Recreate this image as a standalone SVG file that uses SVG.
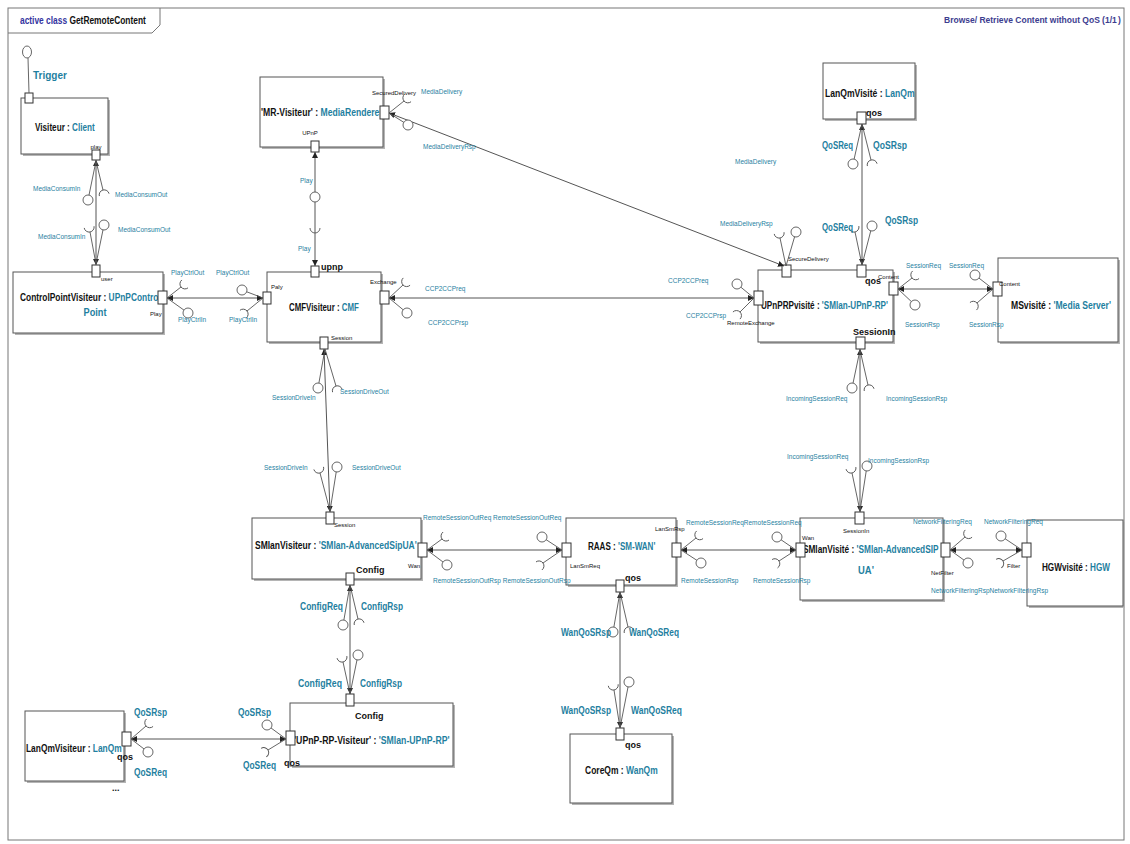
<svg xmlns="http://www.w3.org/2000/svg" xmlns:xlink="http://www.w3.org/1999/xlink" width="1130" height="844" viewBox="0 0 1130 844">
  <style>
    .frame { fill: none; stroke: #777; stroke-width: 1; }
    .box { fill: #fff; stroke: #555; stroke-width: 1; }
    .shadow { fill: #b5b5b5; }
    .port { fill: #fff; stroke: #333; stroke-width: 1; }
    .ln { fill: none; stroke: #555; stroke-width: 1; }
    .stem { fill: none; stroke: #555; stroke-width: 0.9; }
    .ball { fill: #fff; stroke: #555; stroke-width: 0.9; }
    .sock { fill: none; stroke: #555; stroke-width: 0.9; }
    text { font-family: "Liberation Sans", Arial, sans-serif; }
    .name { font-size: 11px; font-weight: bold; fill: #111; }
    .type { fill: #1f7f9f; }
    .cl { font-size: 6.5px; fill: #1f7f9f; }
    .bl { font-size: 10px; font-weight: bold; fill: #1f7f9f; }
    .pl { font-size: 6px; fill: #111; }
    .pb { font-size: 9px; font-weight: bold; fill: #111; }
    .hdr { font-size: 11px; font-weight: bold; }
    .hdr-r { font-size: 8.5px; font-weight: bold; fill: #3d3d8f; }
  </style>
  <defs>
    <marker id="arr" viewBox="0 0 6 6" refX="6" refY="3" markerWidth="6" markerHeight="6" markerUnits="userSpaceOnUse" orient="auto-start-reverse">
      <path d="M0,0 L6,3 L0,6 z" fill="#222"/>
    </marker>
    <!-- required-interface socket: cup whose bottom sits at the origin, opening along +x -->
    <path id="sk" class="sock" d="M5,-5 A5,5 0 0 0 5,5"/>
  </defs>

  <rect width="1130" height="844" fill="#fff"/>

  <!-- diagram frame and header tab; names are narrowed horizontally about their start point -->
  <g id="frame">
    <rect class="frame" x="8" y="8" width="1116" height="832"/>
    <path class="frame" d="M8,33 H152 L160,25 V8"/>
    <text class="hdr" x="20" y="24" transform="matrix(0.764,0,0,1,4.7,0)"><tspan fill="#3434a0">active class </tspan><tspan fill="#111">GetRemoteContent</tspan></text>
    <text class="hdr-r" x="944" y="23">Browse/ Retrieve Content without QoS</text>
    <text class="hdr-r" x="1102" y="23">(</text>
    <text class="hdr-r" x="1105" y="23" fill="#b3b300">1/1</text>
    <text class="hdr-r" x="1118" y="23">)</text>
  </g>

  <!-- parts -->
  <g id="visiteur">
    <rect class="shadow" x="23" y="100" width="87" height="56"/>
    <rect class="box" x="21" y="98" width="87" height="56"/>
    <text class="name" x="35" y="131" transform="matrix(0.743,0,0,1,9.0,0)">Visiteur : <tspan class="type">Client</tspan></text>
    <rect class="port" x="25" y="93" width="8" height="10"/>
    <rect class="port" x="92" y="150" width="8" height="10"/>
    <text class="pl" x="96" y="149" text-anchor="middle">play</text>
  </g>

  <g id="mr-visiteur">
    <rect class="shadow" x="262" y="79" width="123" height="70"/>
    <rect class="box" x="260" y="77" width="123" height="70"/>
    <text class="name" x="261" y="116" transform="matrix(0.784,0,0,1,56.4,0)">'MR-Visiteur' : <tspan class="type">MediaRenderer</tspan></text>
    <rect class="port" x="380" y="106" width="9" height="13"/>
    <rect class="port" x="311" y="141" width="8" height="11"/>
    <text class="pl" x="372" y="95">SecuredDelivery</text>
    <text class="pl" x="310" y="135" text-anchor="middle">UPnP</text>
  </g>

  <g id="cmf-visiteur">
    <rect class="shadow" x="269" y="274" width="114" height="70"/>
    <rect class="box" x="267" y="272" width="114" height="70"/>
    <text class="name" x="289" y="311" transform="matrix(0.716,0,0,1,82.1,0)">CMFVisiteur : <tspan class="type">CMF</tspan></text>
    <rect class="port" x="311" y="266" width="8" height="11"/>
    <rect class="port" x="263" y="292" width="8" height="12"/>
    <rect class="port" x="380" y="291" width="9" height="13"/>
    <rect class="port" x="320" y="337" width="8" height="12"/>
    <text class="pb" x="321" y="270">upnp</text>
    <text class="pl" x="271" y="289">Paly</text>
    <text class="pl" x="370" y="284">Exchange</text>
    <text class="pl" x="331" y="340">Session</text>
  </g>

  <g id="controlpoint-visiteur">
    <rect class="shadow" x="15" y="274" width="150" height="61"/>
    <rect class="box" x="13" y="272" width="150" height="61"/>
    <text class="name" x="20" y="301" transform="matrix(0.761,0,0,1,4.8,0)">ControlPointVisiteur : <tspan class="type">UPnPControl</tspan></text>
    <text class="name type" x="95" y="316" text-anchor="middle" transform="matrix(0.836,0,0,1,15.6,0)">Point</text>
    <rect class="port" x="92" y="265" width="8" height="12"/>
    <rect class="port" x="158" y="291" width="9" height="13"/>
    <text class="pl" x="101" y="281">user</text>
    <text class="pl" x="150" y="316">Play</text>
  </g>

  <g id="lanqm-visite">
    <rect class="shadow" x="825" y="65" width="92" height="56"/>
    <rect class="box" x="823" y="63" width="92" height="56"/>
    <text class="name" x="825" y="97" transform="matrix(0.783,0,0,1,179.0,0)">LanQmVisité : <tspan class="type">LanQm</tspan></text>
    <rect class="port" x="857" y="112" width="9" height="12"/>
    <text class="pb" x="866" y="116" font-size="8">qos</text>
  </g>

  <g id="upnprp-visite">
    <rect class="shadow" x="760" y="272" width="135" height="72"/>
    <rect class="box" x="758" y="270" width="135" height="72"/>
    <text class="name" x="761" y="309" transform="matrix(0.738,0,0,1,199.4,0)">UPnPRPvisité : <tspan class="type">'SMlan-UPnP-RP'</tspan></text>
    <rect class="port" x="782" y="265" width="9" height="12"/>
    <rect class="port" x="857" y="265" width="9" height="12"/>
    <rect class="port" x="889" y="282" width="9" height="13"/>
    <rect class="port" x="754" y="291" width="9" height="14"/>
    <rect class="port" x="856" y="337" width="9" height="12"/>
    <text class="pl" x="788" y="261">SecureDelivery</text>
    <text class="pb" x="865" y="284" font-size="8">qos</text>
    <text class="pl" x="878" y="279">Content</text>
    <text class="pl" x="727" y="325">RemoteExchange</text>
    <text class="pb" x="853" y="335" font-weight="normal">SessionIn</text>
  </g>

  <g id="ms-visite">
    <rect class="shadow" x="1000" y="260" width="120" height="84"/>
    <rect class="box" x="998" y="258" width="120" height="84"/>
    <text class="name" x="1011" y="309" transform="matrix(0.781,0,0,1,221.4,0)">MSvisité : <tspan class="type">'Media Server'</tspan></text>
    <rect class="port" x="993" y="282" width="9" height="14"/>
    <text class="pl" x="999" y="286">Content</text>
  </g>

  <g id="smlan-visiteur">
    <rect class="shadow" x="254" y="520" width="169" height="61"/>
    <rect class="box" x="252" y="518" width="169" height="61"/>
    <text class="name" x="255" y="549" transform="matrix(0.774,0,0,1,57.6,0)">SMlanVisiteur : <tspan class="type">'SMlan-AdvancedSipUA'</tspan></text>
    <rect class="port" x="326" y="512" width="8" height="12"/>
    <rect class="port" x="418" y="543" width="9" height="14"/>
    <rect class="port" x="346" y="573" width="8" height="12"/>
    <text class="pl" x="334" y="527">Session</text>
    <text class="pl" x="408" y="568">Wan</text>
    <text class="pb" x="356" y="573" font-weight="normal">Config</text>
  </g>

  <g id="raas">
    <rect class="shadow" x="568" y="520" width="110" height="67"/>
    <rect class="box" x="566" y="518" width="110" height="67"/>
    <text class="name" x="588" y="550" transform="matrix(0.734,0,0,1,156.4,0)">RAAS : <tspan class="type">'SM-WAN'</tspan></text>
    <rect class="port" x="562" y="543" width="9" height="14"/>
    <rect class="port" x="672" y="543" width="9" height="14"/>
    <rect class="port" x="616" y="580" width="8" height="12"/>
    <text class="pl" x="570" y="568">LanSmReq</text>
    <text class="pl" x="655" y="531">LanSmRsp</text>
    <text class="pb" x="625" y="581" font-size="8">qos</text>
  </g>

  <g id="smlan-visite">
    <rect class="shadow" x="802" y="520" width="143" height="82"/>
    <rect class="box" x="800" y="518" width="143" height="82"/>
    <text class="name" x="803" y="553" transform="matrix(0.753,0,0,1,198.3,0)">SMlanVisité : <tspan class="type">'SMlan-AdvancedSIP</tspan></text>
    <text class="name type" x="866" y="574" text-anchor="middle" transform="matrix(0.86,0,0,1,121.2,0)">UA'</text>
    <rect class="port" x="855" y="512" width="9" height="12"/>
    <rect class="port" x="796" y="543" width="9" height="14"/>
    <rect class="port" x="941" y="543" width="9" height="14"/>
    <text class="pl" x="843" y="533">SessionIn</text>
    <text class="pl" x="802" y="540">Wan</text>
    <text class="pl" x="931" y="575">NetFilter</text>
  </g>

  <g id="hgw-visite">
    <rect class="shadow" x="1029" y="522" width="96" height="86"/>
    <rect class="box" x="1027" y="520" width="96" height="86"/>
    <text class="name" x="1042" y="571" transform="matrix(0.742,0,0,1,268.8,0)">HGWvisité : <tspan class="type">HGW</tspan></text>
    <rect class="port" x="1022" y="543" width="9" height="14"/>
    <text class="pl" x="1007" y="568">Filter</text>
  </g>

  <g id="upnp-rp-visiteur">
    <rect class="shadow" x="292" y="705" width="163" height="63"/>
    <rect class="box" x="290" y="703" width="163" height="63"/>
    <text class="name" x="294" y="744" transform="matrix(0.792,0,0,1,61.2,0)">'UPnP-RP-Visiteur' : <tspan class="type">'SMlan-UPnP-RP'</tspan></text>
    <rect class="port" x="346" y="694" width="8" height="12"/>
    <rect class="port" x="286" y="731" width="9" height="14"/>
    <text class="pb" x="355" y="719">Config</text>
    <text class="pb" x="284" y="766" font-size="8">qos</text>
  </g>

  <g id="lanqm-visiteur">
    <rect class="shadow" x="27" y="713" width="99" height="70"/>
    <rect class="box" x="25" y="711" width="99" height="70"/>
    <text class="name" x="26" y="752" transform="matrix(0.762,0,0,1,6.2,0)">LanQmVisiteur : <tspan class="type">LanQm</tspan></text>
    <rect class="port" x="122" y="732" width="9" height="14"/>
    <text class="pb" x="117" y="760" font-size="8">qos</text>
    <text class="pb" x="112" y="791">...</text>
  </g>

  <g id="coreqm">
    <rect class="shadow" x="572" y="736" width="102" height="69"/>
    <rect class="box" x="570" y="734" width="102" height="69"/>
    <text class="name" x="585" y="774" transform="matrix(0.771,0,0,1,134.0,0)">CoreQm : <tspan class="type">WanQm</tspan></text>
    <rect class="port" x="616" y="728" width="8" height="12"/>
    <text class="pb" x="625" y="748" font-size="8">qos</text>
  </g>

  <!-- connectors: assembly lines with provided (ball) and required (socket) interface ends -->
  <g id="connectors">
    <!-- Trigger lollipop -->
    <line class="stem" x1="28" y1="58" x2="29" y2="93"/>
    <ellipse class="ball" cx="27" cy="52" rx="4.5" ry="6"/>
    <text class="bl" x="33" y="79">Trigger</text>

    <!-- Visiteur.play <-> ControlPointVisiteur.user -->
    <line class="ln" x1="96" y1="160" x2="96" y2="265" marker-start="url(#arr)" marker-end="url(#arr)"/>
    <line class="stem" x1="96" y1="161" x2="88" y2="200"/><circle class="ball" cx="88" cy="200" r="5"/>
    <line class="stem" x1="96" y1="161" x2="103" y2="190"/><use xlink:href="#sk" transform="translate(103,190) rotate(76)"/>
    <line class="stem" x1="96" y1="264" x2="90" y2="232"/><use xlink:href="#sk" transform="translate(90,232) rotate(-100)"/>
    <line class="stem" x1="96" y1="264" x2="104" y2="225"/><circle class="ball" cx="104" cy="225" r="5"/>
    <text class="cl" x="33" y="191">MediaConsumIn</text>
    <text class="cl" x="115" y="197">MediaConsumOut</text>
    <text class="cl" x="38" y="239">MediaConsumIn</text>
    <text class="cl" x="118" y="232">MediaConsumOut</text>

    <!-- MR-Visiteur.UPnP <-> CMFVisiteur.upnp -->
    <line class="ln" x1="315" y1="152" x2="315" y2="266" marker-start="url(#arr)" marker-end="url(#arr)"/>
    <circle class="ball" cx="315" cy="197" r="5"/>
    <use xlink:href="#sk" transform="translate(315,233) rotate(-90)"/>
    <text class="cl" x="300" y="183">Play</text>
    <text class="cl" x="298" y="251">Play</text>

    <!-- ControlPointVisiteur.Play <-> CMFVisiteur.Paly -->
    <line class="ln" x1="167" y1="298" x2="263" y2="298" marker-start="url(#arr)" marker-end="url(#arr)"/>
    <line class="stem" x1="167" y1="298" x2="181" y2="287"/><use xlink:href="#sk" transform="translate(181,287) rotate(-38)"/>
    <line class="stem" x1="167" y1="298" x2="188" y2="313"/><circle class="ball" cx="188" cy="313" r="5"/>
    <line class="stem" x1="263" y1="298" x2="242" y2="290"/><circle class="ball" cx="242" cy="290" r="5"/>
    <line class="stem" x1="263" y1="298" x2="247" y2="311"/><use xlink:href="#sk" transform="translate(247,311) rotate(141)"/>
    <text class="cl" x="171" y="275">PlayCtrlOut</text>
    <text class="cl" x="216" y="275">PlayCtrlOut</text>
    <text class="cl" x="178" y="322">PlayCtrlIn</text>
    <text class="cl" x="229" y="322">PlayCtrlIn</text>

    <!-- CMFVisiteur.Exchange <-> UPnPRPvisite.RemoteExchange -->
    <line class="ln" x1="389" y1="298" x2="754" y2="298" marker-start="url(#arr)" marker-end="url(#arr)"/>
    <line class="stem" x1="389" y1="298" x2="403" y2="285"/><use xlink:href="#sk" transform="translate(403,285) rotate(-43)"/>
    <line class="stem" x1="389" y1="298" x2="407" y2="313"/><circle class="ball" cx="407" cy="313" r="5"/>
    <line class="stem" x1="754" y1="298" x2="737" y2="284"/><circle class="ball" cx="737" cy="284" r="5"/>
    <line class="stem" x1="754" y1="298" x2="740" y2="312"/><use xlink:href="#sk" transform="translate(740,312) rotate(135)"/>
    <text class="cl" x="425" y="291">CCP2CCPreq</text>
    <text class="cl" x="428" y="325">CCP2CCPrsp</text>
    <text class="cl" x="668" y="283">CCP2CCPreq</text>
    <text class="cl" x="686" y="318">CCP2CCPrsp</text>

    <!-- MR-Visiteur.SecuredDelivery <-> UPnPRPvisite.SecureDelivery -->
    <line class="ln" x1="389" y1="113" x2="784" y2="266" marker-start="url(#arr)" marker-end="url(#arr)"/>
    <line class="stem" x1="389" y1="113" x2="404" y2="101"/><use xlink:href="#sk" transform="translate(404,101) rotate(-39)"/>
    <line class="stem" x1="389" y1="113" x2="408" y2="125"/><circle class="ball" cx="408" cy="125" r="5"/>
    <line class="stem" x1="786" y1="266" x2="780" y2="238"/><use xlink:href="#sk" transform="translate(780,238) rotate(-100)"/>
    <line class="stem" x1="786" y1="266" x2="796" y2="232"/><circle class="ball" cx="796" cy="232" r="5"/>
    <text class="cl" x="421" y="94">MediaDelivery</text>
    <text class="cl" x="423" y="149">MediaDeliveryRsp</text>
    <text class="cl" x="735" y="164">MediaDelivery</text>
    <text class="cl" x="720" y="226">MediaDeliveryRsp</text>

    <!-- LanQmVisite.qos <-> UPnPRPvisite.qos -->
    <line class="ln" x1="862" y1="124" x2="862" y2="265" marker-start="url(#arr)" marker-end="url(#arr)"/>
    <line class="stem" x1="862" y1="124" x2="853" y2="164"/><circle class="ball" cx="853" cy="164" r="5"/>
    <line class="stem" x1="862" y1="124" x2="871" y2="160"/><use xlink:href="#sk" transform="translate(871,160) rotate(76)"/>
    <line class="stem" x1="862" y1="265" x2="855" y2="232"/><use xlink:href="#sk" transform="translate(855,232) rotate(-102)"/>
    <line class="stem" x1="862" y1="265" x2="872" y2="226"/><circle class="ball" cx="872" cy="226" r="5"/>
    <text class="bl" x="822" y="149" textLength="31" lengthAdjust="spacingAndGlyphs">QoSReq</text>
    <text class="bl" x="873" y="149" textLength="34" lengthAdjust="spacingAndGlyphs">QoSRsp</text>
    <text class="bl" x="822" y="231" textLength="31" lengthAdjust="spacingAndGlyphs">QoSReq</text>
    <text class="bl" x="885" y="224" textLength="33" lengthAdjust="spacingAndGlyphs">QoSRsp</text>

    <!-- UPnPRPvisite.Content <-> MSvisite.Content -->
    <line class="ln" x1="898" y1="289" x2="993" y2="289" marker-start="url(#arr)" marker-end="url(#arr)"/>
    <line class="stem" x1="898" y1="289" x2="912" y2="278"/><use xlink:href="#sk" transform="translate(912,278) rotate(-40)"/>
    <line class="stem" x1="898" y1="289" x2="915" y2="305"/><circle class="ball" cx="915" cy="305" r="5"/>
    <line class="stem" x1="993" y1="289" x2="975" y2="275"/><circle class="ball" cx="975" cy="275" r="5"/>
    <line class="stem" x1="993" y1="289" x2="977" y2="303"/><use xlink:href="#sk" transform="translate(977,303) rotate(139)"/>
    <text class="cl" x="906" y="268">SessionReq</text>
    <text class="cl" x="949" y="268">SessionReq</text>
    <text class="cl" x="905" y="327">SessionRsp</text>
    <text class="cl" x="969" y="327">SessionRsp</text>

    <!-- CMFVisiteur.Session <-> SMlanVisiteur.Session -->
    <line class="ln" x1="324" y1="349" x2="330" y2="512" marker-start="url(#arr)" marker-end="url(#arr)"/>
    <line class="stem" x1="325" y1="349" x2="318" y2="388"/><circle class="ball" cx="318" cy="388" r="5"/>
    <line class="stem" x1="325" y1="349" x2="336" y2="386"/><use xlink:href="#sk" transform="translate(336,386) rotate(74)"/>
    <line class="stem" x1="330" y1="511" x2="320" y2="473"/><use xlink:href="#sk" transform="translate(320,473) rotate(-105)"/>
    <line class="stem" x1="330" y1="511" x2="337" y2="467"/><circle class="ball" cx="337" cy="467" r="5"/>
    <text class="cl" x="272" y="400">SessionDriveIn</text>
    <text class="cl" x="340" y="394">SessionDriveOut</text>
    <text class="cl" x="264" y="470">SessionDriveIn</text>
    <text class="cl" x="352" y="470">SessionDriveOut</text>

    <!-- UPnPRPvisite.SessionIn <-> SMlanVisite.SessionIn -->
    <line class="ln" x1="860" y1="349" x2="860" y2="512" marker-start="url(#arr)" marker-end="url(#arr)"/>
    <line class="stem" x1="860" y1="350" x2="852" y2="388"/><circle class="ball" cx="852" cy="388" r="5"/>
    <line class="stem" x1="860" y1="350" x2="868" y2="385"/><use xlink:href="#sk" transform="translate(868,385) rotate(77)"/>
    <line class="stem" x1="860" y1="511" x2="852" y2="473"/><use xlink:href="#sk" transform="translate(852,473) rotate(-102)"/>
    <line class="stem" x1="860" y1="511" x2="867" y2="466"/><circle class="ball" cx="867" cy="466" r="5"/>
    <text class="cl" x="786" y="401">IncomingSessionReq</text>
    <text class="cl" x="886" y="401">IncomingSessionRsp</text>
    <text class="cl" x="787" y="459">IncomingSessionReq</text>
    <text class="cl" x="868" y="463">IncomingSessionRsp</text>

    <!-- SMlanVisiteur.Wan <-> RAAS.LanSmReq -->
    <line class="ln" x1="427" y1="550" x2="562" y2="550" marker-start="url(#arr)" marker-end="url(#arr)"/>
    <line class="stem" x1="427" y1="550" x2="442" y2="539"/><use xlink:href="#sk" transform="translate(442,539) rotate(-36)"/>
    <line class="stem" x1="427" y1="550" x2="447" y2="565"/><circle class="ball" cx="447" cy="565" r="5"/>
    <line class="stem" x1="562" y1="550" x2="542" y2="537"/><circle class="ball" cx="542" cy="537" r="5"/>
    <line class="stem" x1="562" y1="550" x2="543" y2="563"/><use xlink:href="#sk" transform="translate(543,563) rotate(144)"/>
    <text class="cl" x="423" y="520">RemoteSessionOutReq RemoteSessionOutReq</text>
    <text class="cl" x="433" y="583">RemoteSessionOutRsp RemoteSessionOutRsp</text>

    <!-- RAAS.LanSmRsp <-> SMlanVisite.Wan -->
    <line class="ln" x1="681" y1="550" x2="796" y2="550" marker-start="url(#arr)" marker-end="url(#arr)"/>
    <line class="stem" x1="681" y1="550" x2="696" y2="538"/><use xlink:href="#sk" transform="translate(696,538) rotate(-40)"/>
    <line class="stem" x1="681" y1="550" x2="701" y2="563"/><circle class="ball" cx="701" cy="563" r="5"/>
    <line class="stem" x1="796" y1="550" x2="777" y2="537"/><circle class="ball" cx="777" cy="537" r="5"/>
    <line class="stem" x1="796" y1="550" x2="779" y2="561"/><use xlink:href="#sk" transform="translate(779,561) rotate(147)"/>
    <text class="cl" x="686" y="525">RemoteSessionReqRemoteSessionReq</text>
    <text class="cl" x="681" y="583">RemoteSessionRsp</text>
    <text class="cl" x="753" y="583">RemoteSessionRsp</text>

    <!-- SMlanVisite.NetFilter <-> HGWvisite.Filter -->
    <line class="ln" x1="950" y1="550" x2="1022" y2="550" marker-start="url(#arr)" marker-end="url(#arr)"/>
    <line class="stem" x1="950" y1="550" x2="965" y2="537"/><use xlink:href="#sk" transform="translate(965,537) rotate(-43)"/>
    <line class="stem" x1="950" y1="550" x2="968" y2="563"/><circle class="ball" cx="968" cy="563" r="5"/>
    <line class="stem" x1="1022" y1="550" x2="1001" y2="536"/><circle class="ball" cx="1001" cy="536" r="5"/>
    <line class="stem" x1="1022" y1="550" x2="1003" y2="561"/><use xlink:href="#sk" transform="translate(1003,561) rotate(149)"/>
    <text class="cl" x="913" y="524">NetworkFilteringReq</text>
    <text class="cl" x="984" y="524">NetworkFilteringReq</text>
    <text class="cl" x="931" y="593">NetworkFilteringRspNetworkFilteringRsp</text>

    <!-- SMlanVisiteur.Config <-> UPnP-RP-Visiteur.Config -->
    <line class="ln" x1="350" y1="585" x2="350" y2="694" marker-start="url(#arr)" marker-end="url(#arr)"/>
    <line class="stem" x1="350" y1="585" x2="343" y2="625"/><circle class="ball" cx="343" cy="625" r="5"/>
    <line class="stem" x1="350" y1="585" x2="358" y2="619"/><use xlink:href="#sk" transform="translate(358,619) rotate(77)"/>
    <line class="stem" x1="350" y1="694" x2="343" y2="662"/><use xlink:href="#sk" transform="translate(343,662) rotate(-102)"/>
    <line class="stem" x1="350" y1="694" x2="358" y2="655"/><circle class="ball" cx="358" cy="655" r="5"/>
    <text class="bl" x="300" y="610" textLength="43" lengthAdjust="spacingAndGlyphs">ConfigReq</text>
    <text class="bl" x="361" y="610" textLength="42" lengthAdjust="spacingAndGlyphs">ConfigRsp</text>
    <text class="bl" x="298" y="687" textLength="44" lengthAdjust="spacingAndGlyphs">ConfigReq</text>
    <text class="bl" x="360" y="687" textLength="42" lengthAdjust="spacingAndGlyphs">ConfigRsp</text>

    <!-- RAAS.qos <-> CoreQm.qos -->
    <line class="ln" x1="620" y1="592" x2="620" y2="728" marker-start="url(#arr)" marker-end="url(#arr)"/>
    <line class="stem" x1="620" y1="592" x2="613" y2="632"/><circle class="ball" cx="613" cy="632" r="5"/>
    <line class="stem" x1="620" y1="592" x2="628" y2="627"/><use xlink:href="#sk" transform="translate(628,627) rotate(77)"/>
    <line class="stem" x1="620" y1="728" x2="614" y2="690"/><use xlink:href="#sk" transform="translate(614,690) rotate(-99)"/>
    <line class="stem" x1="620" y1="728" x2="629" y2="682"/><circle class="ball" cx="629" cy="682" r="5"/>
    <text class="bl" x="561" y="636" textLength="50" lengthAdjust="spacingAndGlyphs">WanQoSRsp</text>
    <text class="bl" x="629" y="636" textLength="50" lengthAdjust="spacingAndGlyphs">WanQoSReq</text>
    <text class="bl" x="561" y="714" textLength="50" lengthAdjust="spacingAndGlyphs">WanQoSRsp</text>
    <text class="bl" x="631" y="714" textLength="51" lengthAdjust="spacingAndGlyphs">WanQoSReq</text>

    <!-- LanQmVisiteur.qos <-> UPnP-RP-Visiteur.qos -->
    <line class="ln" x1="131" y1="739" x2="286" y2="739" marker-start="url(#arr)" marker-end="url(#arr)"/>
    <line class="stem" x1="131" y1="739" x2="146" y2="726"/><use xlink:href="#sk" transform="translate(146,726) rotate(-41)"/>
    <line class="stem" x1="131" y1="739" x2="148" y2="752"/><circle class="ball" cx="148" cy="752" r="5"/>
    <line class="stem" x1="286" y1="739" x2="267" y2="725"/><circle class="ball" cx="267" cy="725" r="5"/>
    <line class="stem" x1="286" y1="739" x2="268" y2="750"/><use xlink:href="#sk" transform="translate(268,750) rotate(149)"/>
    <text class="bl" x="134" y="716" textLength="33" lengthAdjust="spacingAndGlyphs">QoSRsp</text>
    <text class="bl" x="134" y="776" textLength="33" lengthAdjust="spacingAndGlyphs">QoSReq</text>
    <text class="bl" x="238" y="716" textLength="33" lengthAdjust="spacingAndGlyphs">QoSRsp</text>
    <text class="bl" x="243" y="769" textLength="33" lengthAdjust="spacingAndGlyphs">QoSReq</text>
  </g>
</svg>
